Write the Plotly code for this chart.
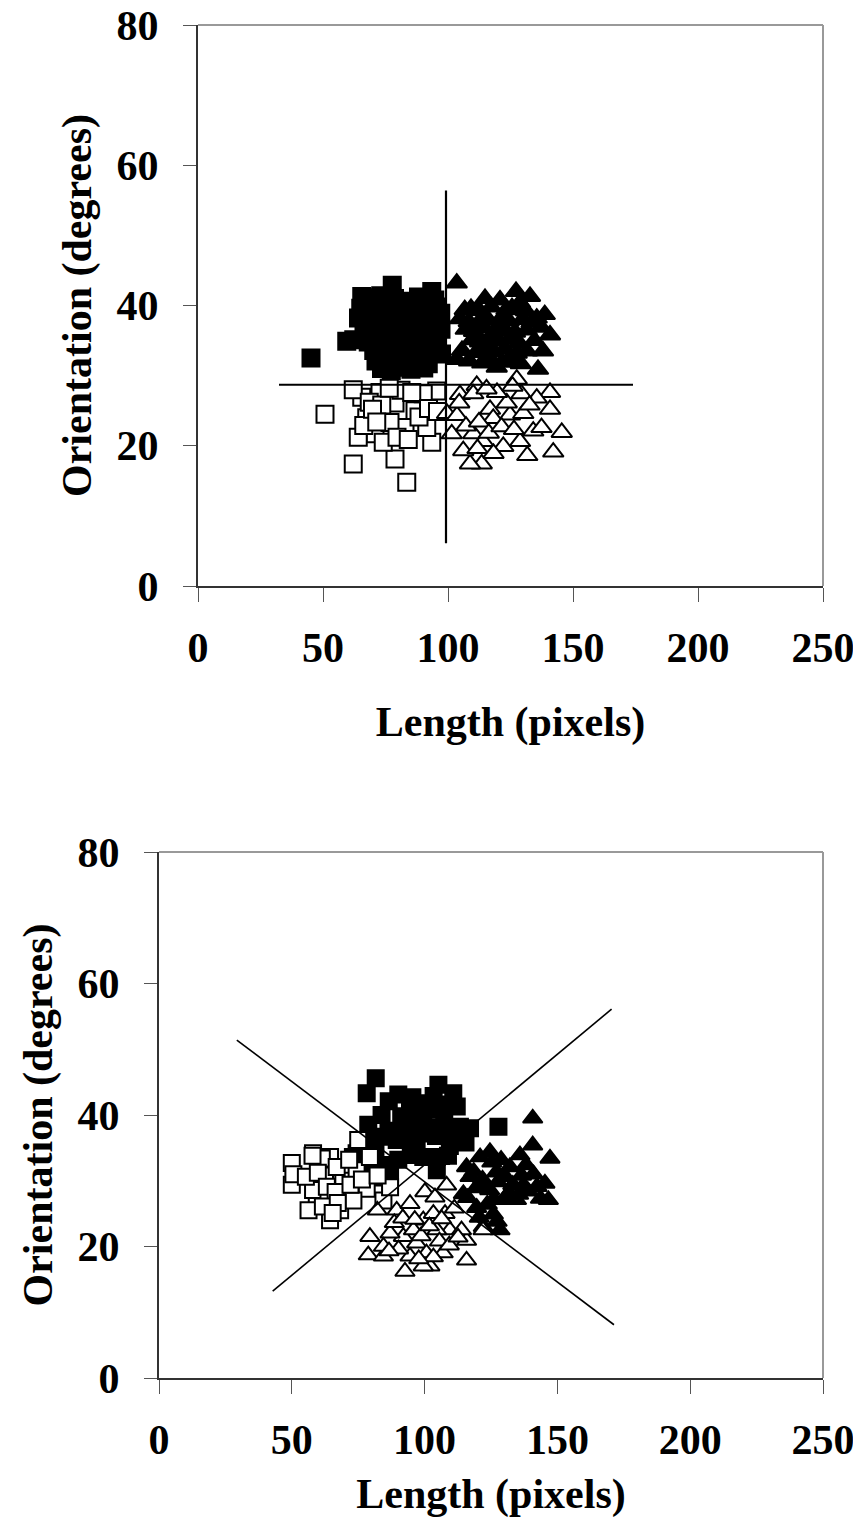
import plotly.graph_objects as go

# ---------------- Top panel data ----------------
top_fs_x = [45.2, 77.7, 93.5, 65.5, 59.5, 66.2, 70.4, 73.1, 78.6, 84.3, 88.2, 94.7,
            65.1, 68.3, 72.4, 75.2, 80.6, 83.1, 87.4, 90.2, 95.3, 97.1,
            64.2, 67.5, 71.3, 74.6, 77.2, 81.5, 85.6, 89.1, 92.3, 96.4,
            66.4, 69.2, 73.5, 76.1, 79.4, 83.6, 86.2, 90.5, 93.1, 97.2,
            62.3, 68.1, 71.6, 75.4, 80.2, 84.5, 88.3, 91.2, 95.6,
            70.3, 74.1, 78.5, 82.4, 86.1, 89.6, 94.2, 97.4,
            71.2, 75.5, 79.3, 83.2, 87.5, 92.1,
            73.4, 77.3, 81.6, 85.2, 90.3]
top_fs_y = [32.5, 42.9, 42.0, 41.3, 34.9, 41.1, 40.7, 41.4, 41.0, 40.6, 41.2, 40.8,
            39.6, 39.2, 39.8, 39.4, 39.7, 39.1, 39.5, 39.3, 39.8, 38.9,
            38.2, 37.8, 38.1, 37.9, 38.3, 37.7, 38.0, 38.2, 37.6, 38.1,
            36.6, 36.3, 36.8, 36.4, 36.7, 36.2, 36.5, 36.9, 36.3, 36.6,
            35.1, 34.8, 35.2, 34.9, 35.3, 34.7, 35.0, 35.2, 34.8,
            33.6, 33.3, 33.7, 33.4, 33.8, 33.2, 33.5, 33.1,
            32.1, 31.8, 32.2, 31.9, 32.3, 31.7,
            31.0, 30.7, 31.2, 30.9, 31.1]

top_os_x = [50.8, 62.1, 78.8, 83.5, 93.5, 65.5, 62.1, 67.5, 70.8, 86.8, 82.8, 78.8,
            95.5, 91.5, 64.1, 74.1, 76.8, 90.1, 72.8,
            68.5, 73.5, 81.2, 85.5, 88.4, 92.2, 66.3, 79.6, 84.1, 69.8, 76.5, 95.8, 71.5]
top_os_y = [24.5, 17.4, 18.1, 14.8, 20.5, 26.9, 28.0, 24.0, 21.7, 25.0, 22.6, 26.1,
            27.8, 22.6, 21.2, 20.5, 23.3, 27.4, 27.6,
            26.2, 25.8, 27.9, 27.6, 24.1, 25.3, 22.9, 21.2, 20.9, 25.2, 28.2, 24.9, 23.4]

top_ft_x = [103.5, 127.2, 132.8, 138.7, 140.8, 138.0, 136.0, 103.5, 106.7, 114.8,
            120.8, 135.5, 128.8, 119.5, 126.0,
            109.2, 112.5, 117.3, 123.4, 125.6, 131.2,
            104.8, 108.3, 113.6, 116.2, 121.5, 124.3, 129.8, 133.4,
            107.1, 110.4, 114.5, 118.7, 122.3, 126.8, 131.5, 137.2,
            109.6, 112.8, 116.5, 120.4, 124.7, 128.3, 134.6,
            105.6, 111.3, 115.2, 118.4, 122.8, 127.5, 131.6,
            108.4, 113.7, 117.1, 121.6, 124.2, 129.1]
top_ft_y = [43.2, 42.0, 41.3, 38.7, 35.8, 33.5, 30.9, 32.3, 39.4, 41.0,
            40.8, 38.2, 40.4, 31.2, 32.0,
            39.6, 39.3, 39.8, 39.4, 39.7, 39.2,
            38.1, 37.7, 38.2, 37.9, 38.3, 37.8, 38.0, 37.6,
            36.6, 36.3, 36.8, 36.4, 36.7, 36.2, 36.5, 36.9,
            35.1, 34.8, 35.2, 34.9, 35.3, 34.7, 35.0,
            33.6, 33.3, 33.7, 33.4, 33.8, 33.2, 33.5,
            32.1, 31.8, 32.2, 31.9, 32.3, 31.7]

top_ot_x = [145.5, 142.1, 140.8, 140.8, 131.7, 113.5, 108.8, 106.1, 101.5, 99.6, 104.8,
            111.5, 127.5, 135.5, 134.1, 122.1, 116.8, 124.8, 110.1, 118.1, 130.1, 110.1,
            128.8, 114.1, 123.5,
            103.6, 107.2, 112.4, 116.3, 119.6, 121.4, 126.4, 129.3, 132.6, 137.4,
            104.5, 115.4, 125.8, 111.8, 118.2]
top_ot_y = [21.9, 19.1, 27.6, 25.2, 18.6, 17.4, 17.4, 19.3, 21.7, 24.6, 27.3,
            28.6, 29.5, 26.8, 22.1, 19.9, 25.2, 24.4, 21.7, 23.9, 24.6, 27.4,
            20.6, 20.6, 26.1,
            24.3, 22.8, 23.4, 21.8, 27.6, 22.7, 22.3, 27.4, 25.8, 22.6,
            26.1, 28.1, 28.5, 19.6, 18.9]

top_vline_x = [99.2, 99.2]
top_vline_y = [56.4, 6.1]
top_hline_x = [32.4, 174.0]
top_hline_y = [28.7, 28.7]

# ---------------- Bottom panel data ----------------
bot_fs_x = [81.6, 78.2, 90.1, 105.2, 110.8, 112.1, 83.8, 78.8, 127.8, 117.1, 74.4, 87.0,
            104.6, 104.6, 94.5, 99.5, 105.8, 109.5, 89.5, 97.0, 83.2, 113.3, 92.0, 99.5,
            76.9, 73.0, 81.9,
            86.5, 95.4, 100.2, 103.4, 108.3, 91.2, 96.6, 102.5, 107.4, 110.6, 86.4,
            93.6, 99.1, 104.3, 108.8, 81.5, 90.1, 94.8, 84.6, 112.3, 115.4, 78.6]
bot_fs_y = [45.6, 43.3, 43.1, 44.6, 43.3, 41.3, 40.0, 38.5, 38.2, 38.0, 34.2, 31.1,
            31.6, 33.6, 41.1, 39.5, 40.8, 35.3, 36.2, 35.3, 36.7, 38.2, 38.2, 33.6,
            36.2, 33.6, 30.5,
            42.1, 42.7, 41.8, 42.9, 41.6, 39.8, 38.7, 38.1, 39.2, 37.4, 37.6,
            36.4, 37.2, 36.8, 33.8, 34.6, 33.2, 33.9, 32.4, 36.1, 35.8, 31.6]

bot_os_x = [50.0, 50.0, 50.6, 58.0, 64.4, 59.4, 56.3, 64.4, 68.2, 62.5, 69.4, 74.4,
            75.0, 78.2, 70.7, 58.0, 61.3, 84.5, 79.4, 66.9, 63.8, 73.2, 87.0,
            55.3, 59.8, 63.2, 66.5, 72.1, 76.4, 61.7, 67.3, 57.8, 71.6, 82.3, 65.4]
bot_os_y = [32.7, 29.4, 31.0, 34.2, 33.6, 26.3, 25.5, 24.0, 25.5, 30.8, 30.0, 31.6,
            36.2, 28.8, 27.8, 28.6, 33.4, 27.0, 33.6, 32.1, 27.0, 27.0, 29.0,
            30.6, 31.2, 29.1, 28.3, 29.4, 30.2, 26.1, 26.6, 33.8, 33.2, 30.8, 25.1]

bot_ft_x = [140.7, 140.7, 147.2, 145.3, 146.6, 124.6, 120.9, 128.4, 122.1, 115.8, 114.6,
            129.7, 135.9, 137.2, 122.1, 127.1, 119.6, 134.6, 117.1, 132.1, 141.0, 125.9,
            105.8,
            118.5, 121.8, 124.5, 127.6, 130.4, 133.2, 136.5, 139.1, 142.3, 116.2, 119.4,
            123.6, 126.1, 131.7, 135.4, 138.2, 128.8, 125.3, 143.6, 120.6, 127.3]
bot_ft_y = [39.5, 35.4, 33.4, 29.6, 27.1, 34.4, 33.6, 22.5, 23.0, 32.1, 28.0,
            27.1, 33.9, 29.3, 29.3, 31.3, 25.9, 27.1, 30.6, 32.1, 31.0, 24.9,
            33.2,
            31.4, 30.2, 28.6, 29.8, 30.6, 29.4, 30.8, 28.4, 29.1, 27.4, 28.9,
            26.4, 27.2, 28.1, 27.9, 32.4, 33.2, 32.8, 27.3, 24.4, 23.8]

bot_ot_x = [79.4, 78.8, 84.5, 92.6, 102.0, 115.8, 115.8, 82.2, 89.5, 94.5, 100.1, 103.9,
            107.7, 109.5, 104.6, 99.5, 92.0, 97.0, 87.0, 94.5, 107.0, 100.7, 113.9, 95.8,
            108.3, 103.3, 122.0, 84.5, 99.5,
            88.6, 91.8, 96.3, 98.7, 101.8, 105.6, 109.3, 112.6, 90.2, 86.6, 103.3, 97.8,
            106.4, 111.2]
bot_ot_y = [21.5, 18.7, 18.5, 16.2, 17.0, 17.9, 20.9, 25.5, 25.5, 26.5, 28.3, 27.5,
            25.0, 22.5, 22.5, 24.0, 21.5, 20.5, 22.0, 18.5, 19.0, 19.0, 22.5, 22.5,
            29.3, 25.0, 22.5, 20.0, 17.0,
            23.6, 24.3, 24.1, 21.6, 23.1, 20.8, 20.2, 21.4, 19.6, 19.3, 18.4, 18.1,
            24.2, 25.8]

bot_line1_x = [29.3, 171.3]
bot_line1_y = [51.4, 8.1]
bot_line2_x = [42.8, 170.4]
bot_line2_y = [13.2, 56.1]

x_ticks = [0, 50, 100, 150, 200, 250]
y_ticks = [0, 20, 40, 60, 80]

# ---------------- Figure ----------------
FONT = "Liberation Serif"
fig = go.Figure()


def add_panel(xa, ya, fs, os_, ft, ot, lines, sq_size, tri_size, lw_line):
    common = dict(mode="markers", xaxis=xa, yaxis=ya, showlegend=False, hoverinfo="skip")
    fig.add_trace(go.Scatter(x=fs[0], y=fs[1], marker=dict(symbol="square", size=sq_size,
                  color="black", line=dict(color="black", width=2)), **common))
    fig.add_trace(go.Scatter(x=os_[0], y=os_[1], marker=dict(symbol="square", size=sq_size,
                  color="white", line=dict(color="black", width=2)), **common))
    fig.add_trace(go.Scatter(x=ft[0], y=ft[1], marker=dict(symbol="triangle-up", size=tri_size,
                  color="black", line=dict(color="black", width=2)), **common))
    fig.add_trace(go.Scatter(x=ot[0], y=ot[1], marker=dict(symbol="triangle-up", size=tri_size,
                  color="white", line=dict(color="black", width=2)), **common))
    for lx, ly in lines:
        fig.add_trace(go.Scatter(x=lx, y=ly, mode="lines", xaxis=xa, yaxis=ya,
                                 line=dict(color="black", width=lw_line),
                                 showlegend=False, hoverinfo="skip"))


add_panel("x", "y", (top_fs_x, top_fs_y), (top_os_x, top_os_y), (top_ft_x, top_ft_y),
          (top_ot_x, top_ot_y), [(top_vline_x, top_vline_y), (top_hline_x, top_hline_y)],
          17, 18, 2.2)
add_panel("x2", "y2", (bot_fs_x, bot_fs_y), (bot_os_x, bot_os_y), (bot_ft_x, bot_ft_y),
          (bot_ot_x, bot_ot_y), [(bot_line1_x, bot_line1_y), (bot_line2_x, bot_line2_y)],
          16, 17, 1.6)

# The page adds an 8px body margin, so the figure is sized/positioned to compensate.
OFF = 8
W, H = 861 - OFF, 1526 - 2 * OFF
tickfont = dict(family=FONT, size=42, color="black", weight="bold")
titlefont = dict(family=FONT, size=42, color="black", weight="bold")


def xaxis(dom, anchor):
    return dict(domain=dom, anchor=anchor, range=[0, 250], tickvals=x_ticks,
                ticktext=[str(v) for v in x_ticks],
                ticks="outside", ticklen=14, tickwidth=1, tickcolor="#555",
                showline=True, linecolor="#333", linewidth=2, showgrid=False, zeroline=False,
                tickfont=tickfont, ticklabelstandoff=10, ticklabeloverflow="allow",
                title=dict(text="Length (pixels)", font=titlefont, standoff=36))


def yaxis(dom, anchor):
    return dict(domain=dom, anchor=anchor, range=[0, 80], tickvals=y_ticks,
                ticktext=[str(v) for v in y_ticks],
                ticks="outside", ticklen=13, tickwidth=1, tickcolor="#555",
                showline=True, linecolor="#333", linewidth=2, showgrid=False, zeroline=False,
                tickfont=tickfont, ticklabelstandoff=16, ticklabeloverflow="allow",
                title=dict(text="Orientation (degrees)", font=titlefont, standoff=12))


def px_dom_x(a, b):
    return [(a - OFF) / W, (b - OFF) / W]


def px_dom_y(top, bottom):
    return [(H - (bottom - OFF)) / H, (H - (top - OFF)) / H]


fig.update_layout(
    width=W, height=H, margin=dict(l=0, r=0, t=0, b=0, autoexpand=False),
    paper_bgcolor="white", plot_bgcolor="white",
    xaxis=xaxis(px_dom_x(198, 823), "y"),
    yaxis=yaxis(px_dom_y(25, 586), "x"),
    xaxis2=xaxis(px_dom_x(159, 823), "y2"),
    yaxis2=yaxis(px_dom_y(852, 1378), "x2"),
)

# top and right frame lines (lighter grey)
for xr, yr in (("x domain", "y domain"), ("x2 domain", "y2 domain")):
    fig.add_shape(type="line", xref=xr, yref=yr, x0=0, x1=1, y0=1, y1=1,
                  line=dict(color="#999", width=2), layer="below")
    fig.add_shape(type="line", xref=xr, yref=yr, x0=1, x1=1, y0=0, y1=1,
                  line=dict(color="#999", width=2), layer="below")

fig.write_html("out.html")
